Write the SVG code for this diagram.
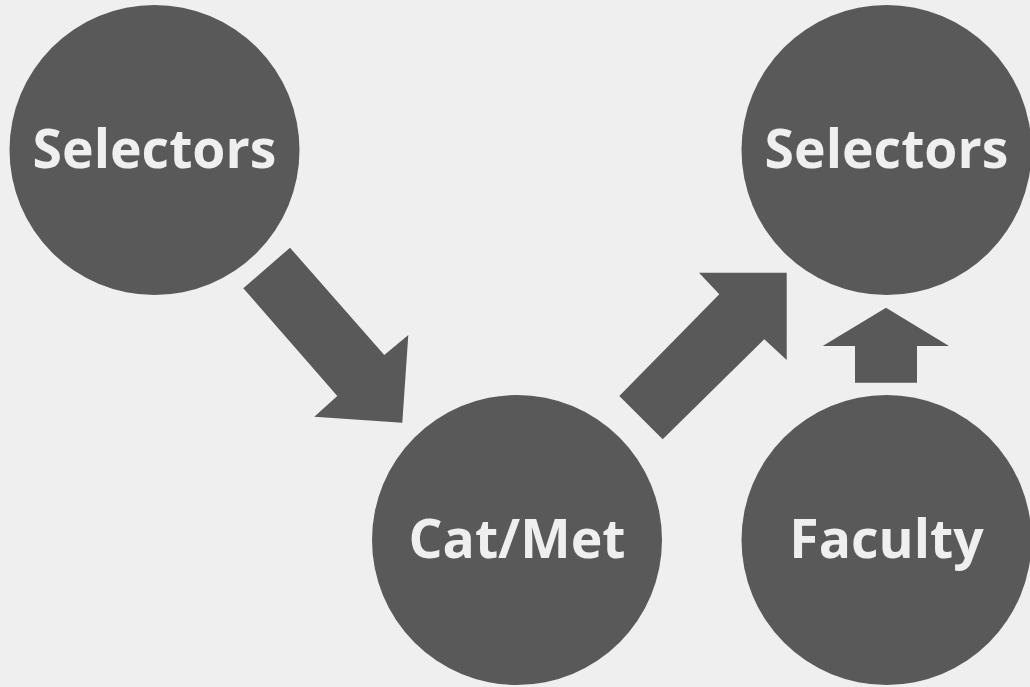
<svg xmlns="http://www.w3.org/2000/svg" width="1030" height="687" viewBox="0 0 1030 687">
<style>
.n{fill:#595959}
.t{fill:#efefef;font-family:"Open Sans",sans-serif;font-weight:bold;font-size:53.5px;text-anchor:middle}
.a{fill:#595959}
</style>
<rect width="1030" height="687" fill="#efefef"/>
<g id="selectors-left"><circle class="n" cx="154.5" cy="150" r="145"/><text class="t" x="154.5" y="168">Selectors</text></g>
<g id="selectors-right"><circle class="n" cx="886.5" cy="150" r="145"/><text class="t" x="886.5" y="168">Selectors</text></g>
<g id="catmet"><circle class="n" cx="517" cy="540" r="145"/><text class="t" x="517" y="558">Cat/Met</text></g>
<g id="faculty"><circle class="n" cx="886.5" cy="540" r="145"/><text class="t" x="886.5" y="558">Faculty</text></g>
<g id="connectors">
<polygon class="a" points="290,247.7 384.3,355 408.3,335 402.3,422.7 314.3,416.7 337.3,396 243.3,288.3"/>
<polygon class="a" points="662.7,439.3 764.3,339.3 786.7,360 786.7,272.7 699,272.7 719.3,294.3 619.3,396"/>
<polygon class="a" points="886,307.7 949,346 917,346 917,382.7 855,382.7 855,346 822.7,346"/>
</g>
</svg>
